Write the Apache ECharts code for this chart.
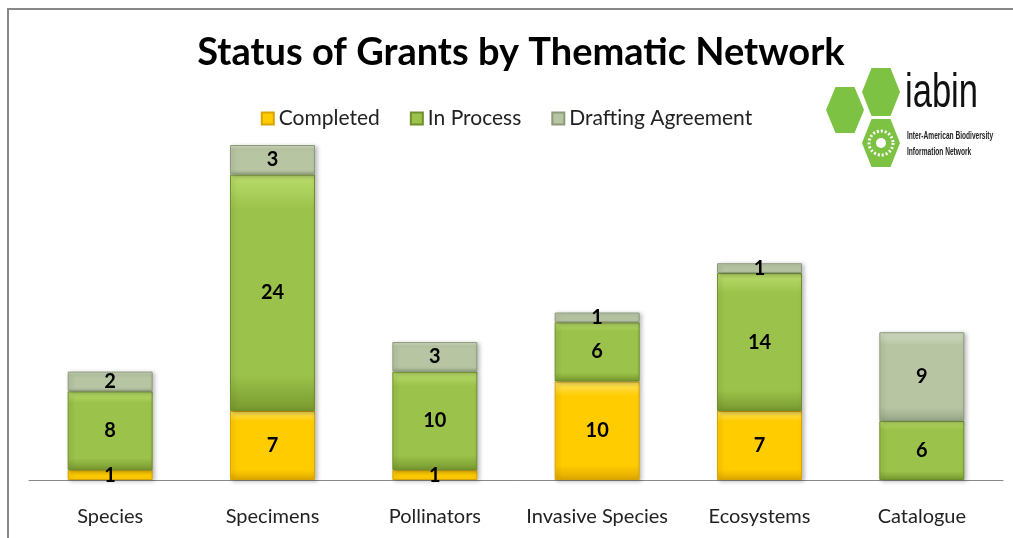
<!DOCTYPE html>
<html>
<head>
<meta charset="utf-8">
<script src="https://cdn.jsdelivr.net/npm/echarts@6/dist/echarts.min.js"></script>
<style>
  html, body { margin: 0; padding: 0; background: #fff; }
  #chart { width: 1013px; height: 538px; }
</style>
</head>
<body>
<div id="chart"></div>
<script>
const categories = ['Species', 'Specimens', 'Pollinators', 'Invasive Species', 'Ecosystems', 'Catalogue']
const completed = [1, 7, 1, 10, 7, 0]
const inProcess = [8, 24, 10, 6, 14, 6]
const drafting = [2, 3, 3, 1, 1, 9]

const FONT = 'Lato, "Open Sans", sans-serif'
const LOGO_FONT = '"Liberation Sans", sans-serif'

function grad(light, mid, dark) {
  return new echarts.graphic.LinearGradient(0, 0, 0, 1, [
    { offset: 0, color: light },
    { offset: 0.15, color: mid },
    { offset: 0.85, color: mid },
    { offset: 1, color: dark }
  ])
}

function seg(name, data, colors, border) {
  return {
    name,
    type: 'bar',
    stack: 'total',
    barWidth: 85,
    // zero values are left out so no empty sliver is drawn
    data: data.map(v => (v ? v : null)),
    itemStyle: {
      color: grad(colors[0], colors[1], colors[2]),
      borderColor: border,
      borderWidth: 1,
      shadowColor: 'rgba(0,0,0,0.25)',
      shadowBlur: 4,
      shadowOffsetX: 2,
      shadowOffsetY: 1
    },
    label: {
      show: true,
      position: 'inside',
      color: '#000',
      fontSize: 20,
      fontWeight: 'bold',
      fontFamily: FONT
    }
  }
}

function hex(cx, cy, w, h) {
  const q = w / 4
  return [
    [cx - w / 2, cy], [cx - q, cy - h / 2], [cx + q, cy - h / 2],
    [cx + w / 2, cy], [cx + q, cy + h / 2], [cx - q, cy + h / 2]
  ]
}

const chart = echarts.init(document.getElementById('chart'))
chart.setOption({
  backgroundColor: '#fff',
  animation: false,
  title: {
    text: 'Status of Grants by Thematic Network',
    left: 516,
    textAlign: 'center',
    top: 29,
    textStyle: { fontFamily: FONT, fontSize: 38, fontWeight: 'bold', color: '#000' }
  },
  legend: {
    top: 103,
    left: 'center',
    icon: 'rect',
    itemWidth: 12,
    itemHeight: 12,
    itemGap: 30,
    textStyle: { fontFamily: FONT, fontSize: 21, color: '#222' },
    data: ['Completed', 'In Process', 'Drafting Agreement']
  },
  grid: { left: 29, right: 10, top: 145, bottom: 58 },
  xAxis: {
    type: 'category',
    data: categories,
    axisLine: { lineStyle: { color: '#888', width: 1 } },
    axisTick: { show: false },
    axisLabel: { interval: 0, fontFamily: FONT, fontSize: 20, color: '#222', margin: 27 }
  },
  yAxis: { type: 'value', min: 0, max: 34, show: false, splitLine: { show: false } },
  series: [
    seg('Completed', completed, ['#FFE566', '#FFCC00', '#E0A800'], '#D9A400'),
    seg('In Process', inProcess, ['#BADD6C', '#9BC24A', '#78992F'], '#6E8F2A'),
    seg('Drafting Agreement', drafting, ['#D3DDC4', '#B7C5A3', '#98A786'], '#8C9A7C')
  ],
  graphic: [
    { type: 'rect', shape: { x: 8, y: 9, width: 1030, height: 560 }, style: { fill: 'none', stroke: '#888', lineWidth: 2 }, silent: true },
    { type: 'polygon', shape: { points: hex(845, 110, 38, 46) }, style: { fill: '#7DC242' } },
    { type: 'polygon', shape: { points: hex(881, 92, 38, 48) }, style: { fill: '#7DC242' } },
    { type: 'polygon', shape: { points: hex(881, 143, 38, 48) }, style: { fill: '#7DC242' } },
    { type: 'circle', shape: { cx: 881, cy: 143, r: 12 }, style: { fill: 'none', stroke: '#fff', lineWidth: 3, lineDash: [2, 2] } },
    { type: 'circle', shape: { cx: 881, cy: 143, r: 5 }, style: { fill: '#fff' } },
    { type: 'text', x: 905, y: 70, scaleX: 0.72, style: { text: 'iabin', fontFamily: LOGO_FONT, fontSize: 48, fill: '#111' } },
    { type: 'text', x: 907, y: 131, scaleX: 0.66, style: { text: 'Inter-American Biodiversity', fontFamily: LOGO_FONT, fontSize: 10, fontWeight: 'bold', fill: '#222' } },
    { type: 'text', x: 907, y: 147, scaleX: 0.66, style: { text: 'Information Network', fontFamily: LOGO_FONT, fontSize: 10, fontWeight: 'bold', fill: '#222' } }
  ]
})
</script>
</body>
</html>
